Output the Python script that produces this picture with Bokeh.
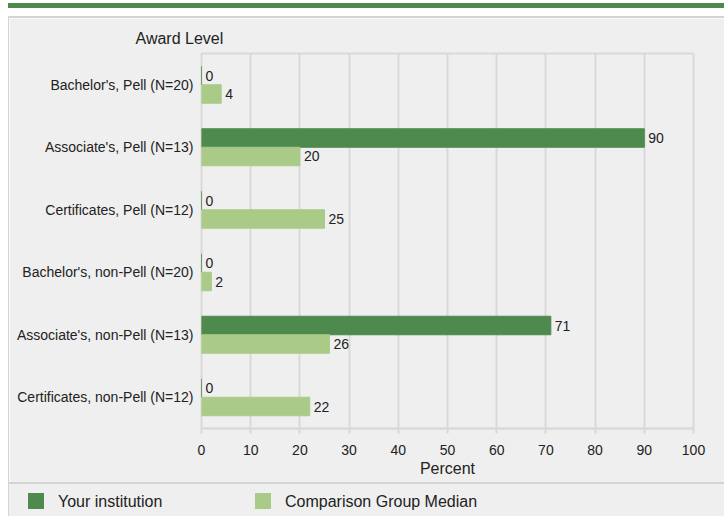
from bokeh.plotting import figure
from bokeh.models import (ColumnDataSource, FactorRange, Range1d, SingleIntervalTicker, Div)
from bokeh.layouts import column, row
from bokeh.transform import dodge
from bokeh.core.properties import value
from bokeh.embed import file_html
from bokeh.resources import INLINE

# ---- data ----
categories = ["Bachelor's, Pell (N=20)", "Associate's, Pell (N=13)", "Certificates, Pell (N=12)",
              "Bachelor's, non-Pell (N=20)", "Associate's, non-Pell (N=13)", "Certificates, non-Pell (N=12)"]
institution = [0, 90, 0, 0, 71, 0]
comparison = [4, 20, 25, 2, 26, 22]
series_names = ["Your institution", "Comparison Group Median"]

DARK = "#4e8a4d"
LIGHT = "#aacb88"
GRID = "#d9d9d9"
EDGE = "#d4d4d4"
BG = "#efefef"
TXT = "#222222"
FONT = "Liberation Sans"

src = ColumnDataSource(dict(cat=categories, inst=institution, comp=comparison,
                            inst_lbl=[str(v) for v in institution],
                            comp_lbl=[str(v) for v in comparison]))

FW, FH = 715, 464
p = figure(width=FW, height=FH, output_backend="svg", toolbar_location=None,
           y_range=FactorRange(factors=list(reversed(categories)), range_padding=0),
           x_range=Range1d(0, 100),
           min_border_left=192, min_border_right=31, min_border_top=35, min_border_bottom=54)
p.margin = 0
p.border_fill_color = BG
p.background_fill_color = BG
p.outline_line_color = GRID
p.outline_line_width = 2

p.title.text = "Award Level"
p.title.align = "left"
p.title.offset = -66
p.title.standoff = 14
p.title.text_font = FONT
p.title.text_font_size = "16px"
p.title.text_font_style = "normal"
p.title.text_color = TXT

r1 = p.hbar(y=dodge('cat', 0.148, range=p.y_range), right='inst', left=0, height=0.296,
            source=src, fill_color=DARK, line_color=DARK, line_width=1)
r2 = p.hbar(y=dodge('cat', -0.148, range=p.y_range), right='comp', left=0, height=0.296,
            source=src, fill_color=LIGHT, line_color=LIGHT, line_width=1)

p.text(x='inst', y=dodge('cat', 0.148, range=p.y_range), text='inst_lbl', source=src,
       x_offset=4, text_baseline="middle", text_align="left", text_font=value(FONT),
       text_font_size="14px", text_color=TXT)
p.text(x='comp', y=dodge('cat', -0.148, range=p.y_range), text='comp_lbl', source=src,
       x_offset=4, text_baseline="middle", text_align="left", text_font=value(FONT),
       text_font_size="14px", text_color=TXT)

# axes
xa = p.xaxis[0]
xa.ticker = SingleIntervalTicker(interval=10)
xa.axis_line_color = GRID
xa.axis_line_width = 2
xa.major_tick_line_color = GRID
xa.major_tick_line_width = 2
xa.major_tick_out = 5
xa.major_tick_in = 0
xa.minor_tick_line_color = None
xa.major_label_text_font = FONT
xa.major_label_text_font_size = "14px"
xa.major_label_text_color = TXT
xa.major_label_standoff = 11
xa.axis_label = "Percent"
xa.axis_label_text_font = FONT
xa.axis_label_text_font_size = "16px"
xa.axis_label_text_font_style = "normal"
xa.axis_label_text_color = TXT
xa.axis_label_standoff = 2

ya = p.yaxis[0]
ya.axis_line_color = None
ya.major_tick_line_color = None
ya.minor_tick_line_color = None
ya.major_tick_out = 0
ya.major_tick_in = 0
ya.major_label_text_font = FONT
ya.major_label_text_font_size = "14px"
ya.major_label_text_color = TXT
ya.major_label_standoff = 8

p.xgrid.grid_line_color = GRID
p.xgrid.grid_line_width = 2
p.xgrid.ticker = SingleIntervalTicker(interval=10)
p.ygrid.grid_line_color = None

# legend row (below a separator rule)
legend_colors = [DARK, LIGHT]
swatch_left = [19, 246]
html = [f'<div style="position:relative;width:{FW}px;height:32px;font-family:\'{FONT}\';'
        f'font-size:16px;color:{TXT};">']
for name, col, x0 in zip(series_names, legend_colors, swatch_left):
    html.append(f'<span style="position:absolute;left:{x0}px;top:9px;width:16px;height:16px;'
                f'background:{col};"></span>')
    html.append(f'<span style="position:absolute;left:{x0 + 30}px;top:9px;line-height:18px;'
                f'white-space:nowrap;">{name}</span>')
html.append('</div>')
legend_div = Div(text="".join(html), width=FW, height=32, margin=0, styles={"background": BG})
sep_div = Div(text="", width=FW, height=2, margin=0, styles={"background": EDGE})

# page decorations: white margin strip, green top rule, panel border
header = Div(text="", width=724, height=18, margin=0, styles={
    "background-image": ("linear-gradient(to right, #ffffff 8px, transparent 8px), "
                         f"linear-gradient(to bottom, #ffffff 3px, {DARK} 3px, {DARK} 8px, "
                         f"#ffffff 8px, #ffffff 16px, {EDGE} 16px)")})
leftcol = Div(text="", width=9, height=FH + 34, margin=0, styles={
    "background-image": f"linear-gradient(to right, #ffffff 8px, {EDGE} 8px)"})

layout = column(header,
                row(leftcol, column(p, sep_div, legend_div, spacing=0, margin=0), spacing=0, margin=0),
                spacing=0, margin=0)

open("out.html", "w").write(file_html(layout, INLINE))
